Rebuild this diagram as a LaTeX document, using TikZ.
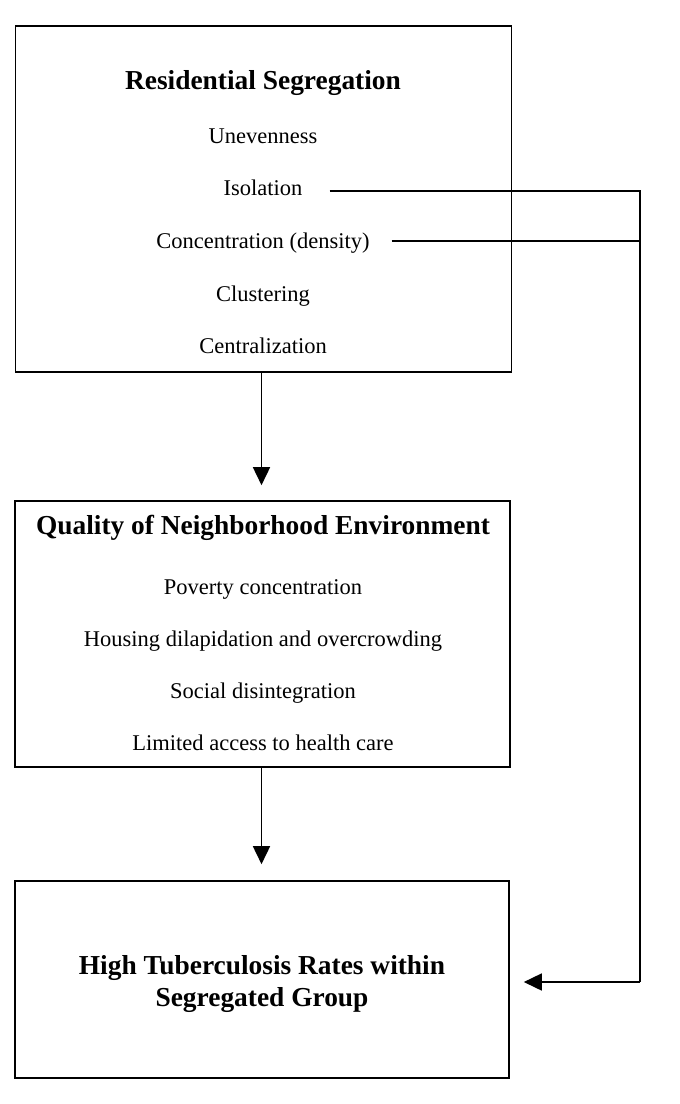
\documentclass[tikz,border=0pt]{standalone}
\usepackage{fontspec}
\setmainfont{Liberation Serif}
\usetikzlibrary{arrows.meta}
\begin{document}
\begin{tikzpicture}[x=1pt,y=-1pt,
  boxnode/.style={draw, line width=1.6pt, inner sep=0pt},
  ttl/.style={font=\fontsize{27.4}{33}\selectfont\bfseries, anchor=base, inner sep=0pt},
  itm/.style={font=\fontsize{22.5}{27}\selectfont, anchor=base, inner sep=0pt},
  conn/.style={line width=1.6pt},
  arr/.style={conn, -{Triangle[length=18pt,width=17pt]}}]
\useasboundingbox (0,0) rectangle (680,1104);
% boxes
\node[boxnode, minimum width=496pt, minimum height=346pt] (b1) at (263.5,199) {};
\node[boxnode, minimum width=495pt, minimum height=266pt] (b2) at (262.5,634) {};
\node[boxnode, minimum width=494pt, minimum height=197pt] (b3) at (262,979.5) {};
% box 1 texts
\node[ttl] (t1) at (263,89) {Residential Segregation};
\node[itm] (une) at (263,143) {Unevenness};
\node[itm] (iso) at (263,195) {Isolation};
\node[itm] (con) at (263,248) {Concentration (density)};
\node[itm] (clu) at (263,301.5) {Clustering};
\node[itm] (cen) at (263,353) {Centralization};
% box 2 texts
\node[ttl] (t2) at (263,534) {Quality of Neighborhood Environment};
\node[itm] (pov) at (263,594) {Poverty concentration};
\node[itm] (hou) at (263,646) {Housing dilapidation and overcrowding};
\node[itm] (soc) at (263,698) {Social disintegration};
\node[itm] (lim) at (263,750.5) {Limited access to health care};
% box 3 texts
\node[ttl] (t3a) at (262,974) {High Tuberculosis Rates within};
\node[ttl] (t3b) at (262,1006.7) {Segregated Group};
% connector points
\coordinate (j1) at (640,191);
\coordinate (j2) at (640,241);
\coordinate (j3) at (640,982);
% connectors
\draw[arr, shorten >=15pt] ([xshift=-2pt]b1.south) -- ([xshift=-2pt]b1.south |- b2.north);
\draw[arr, shorten >=16pt] ([xshift=-1pt]b2.south) -- ([xshift=-1pt]b2.south |- b3.north);
\draw[conn] ([xshift=27pt]iso.base east |- j1) -- (j1) -- (j3);
\draw[conn] ([xshift=22pt]con.base east |- j2) -- (j2);
\draw[arr, shorten >=14pt] (j3) -- (b3.east |- j3);
\end{tikzpicture}
\end{document}
